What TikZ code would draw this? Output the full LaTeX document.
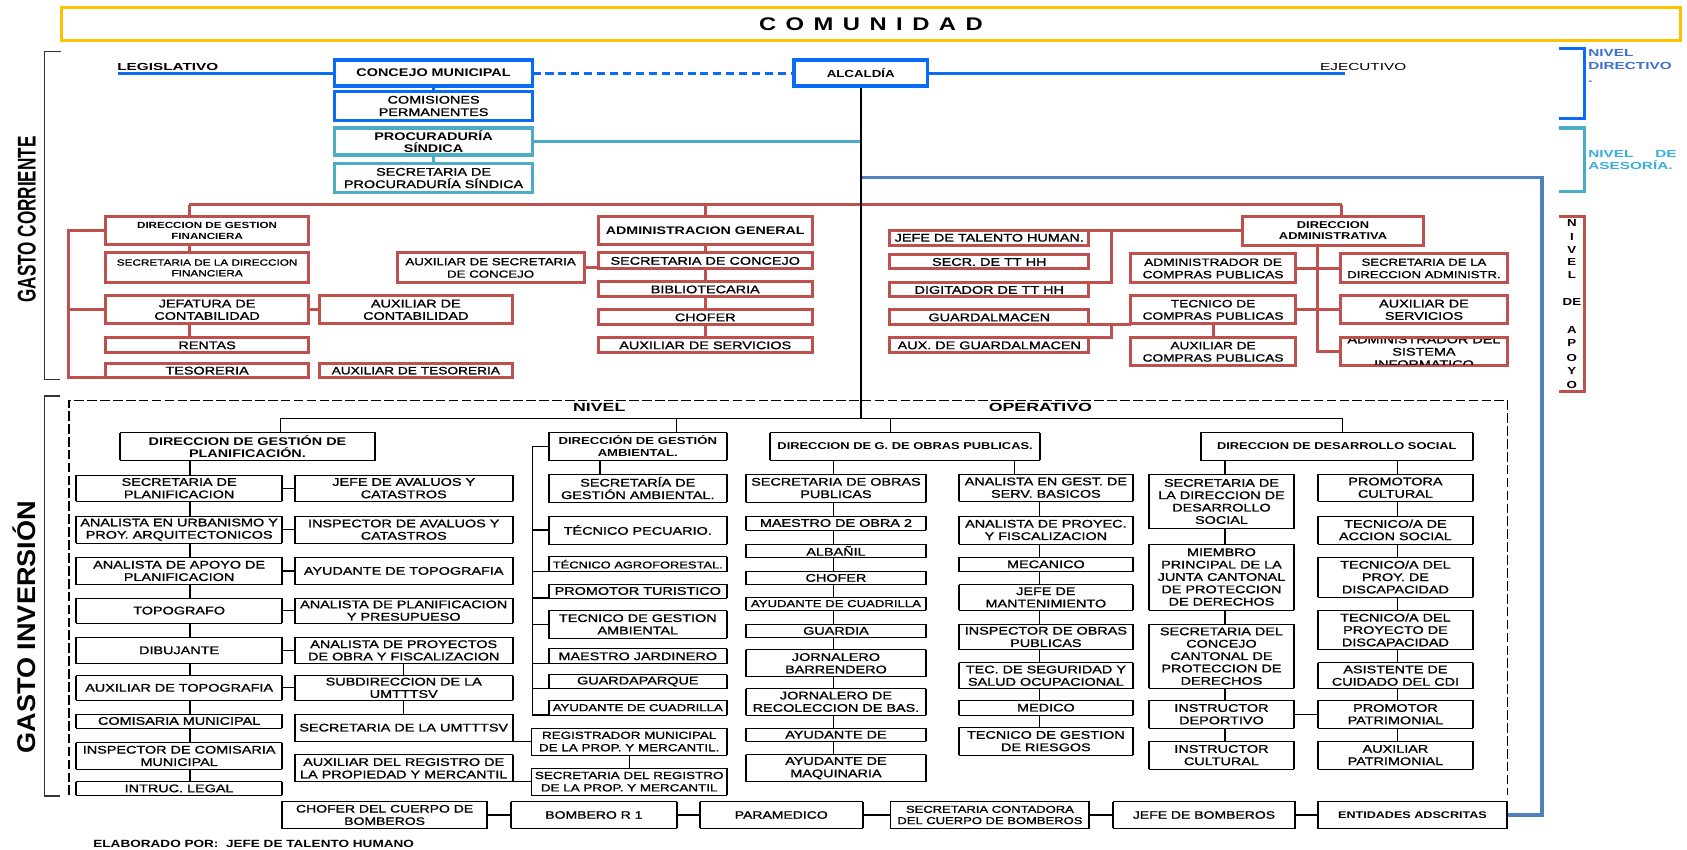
\documentclass[tikz,border=0pt]{standalone}
\usepackage{fontspec}
\setmainfont{Liberation Sans}[FakeStretch=1.3,UprightFeatures={FakeBold=1.2}]
\newfontfamily\wf{Liberation Sans}[FakeStretch=1.5]
\newfontfamily\pf{Liberation Sans}
\definecolor{corange}{HTML}{FFC000}
\definecolor{cblue}{HTML}{0A6CF5}
\definecolor{clblue}{HTML}{4BACC6}
\definecolor{csteel}{HTML}{4F81BD}
\definecolor{cred}{HTML}{C0504D}
\definecolor{ctdir}{HTML}{3F6FD0}
\definecolor{ctase}{HTML}{3AAEDD}
\definecolor{cgray}{HTML}{333333}
\pgfdeclarelayer{bg}
\pgfsetlayers{bg,main}
\newcommand\fs[1]{\fontsize{#1}{11.5}\selectfont}
\newcommand\fsk[2]{\fontsize{#1}{#2}\selectfont}
\newcommand\lsp{\hspace{8.8pt}}
\tikzset{
 box/.style={draw, fill=white, inner sep=0pt, outer sep=0pt, align=center, font=\fs{10.3}},
 bb/.style={draw=cblue, line width=3.5pt},
 lb/.style={draw=clblue, line width=3pt},
 rb/.style={draw=cred, line width=2.8pt},
 ob/.style={draw=black, line width=0.8pt},
 obside/.style={draw=black, line width=1.8pt},
 rl/.style={draw=cred, line width=2.8pt},
 cl/.style={draw=black, line width=1.2pt},
}
\newcommand\bx[7]{\node[box,#1,minimum width={#5pt-#3pt},minimum height={#6pt-#4pt}] (#2) at ({(#3+#5)/2},{(#4+#6)/2}) {#7};}
\newcommand\ob[7]{\bx{ob,#1}{#2}{#3}{#4}{#5}{#6}{#7}\draw[obside] (#2.north west) -- (#2.south west) (#2.north east) -- (#2.south east);}
\begin{document}
\begin{tikzpicture}[x=1pt,y=-1pt]
\useasboundingbox (0,0) rectangle (1568,790);

% ---------- top ----------
\bx{draw=corange,line width=3pt,font=\fs{17}\bfseries}{com}{57}{7}{1562}{38}{C\lsp O\lsp M\lsp U\lsp N\lsp I\lsp D\lsp A\lsp D}
\bx{bb,font=\fs{10.3}\bfseries}{concejo}{311}{56}{495}{80}{CONCEJO MUNICIPAL}
\bx{bb}{comis}{311}{85}{495}{112}{COMISIONES\\PERMANENTES}
\bx{lb,font=\fs{10.3}\bfseries}{procu}{311}{119}{495}{144}{PROCURADURÍA\\SÍNDICA}
\bx{lb}{secproc}{311}{152}{495}{179}{SECRETARIA DE\\PROCURADURÍA SÍNDICA}
\bx{bb,font=\fs{9.5}\bfseries}{alc}{738}{56}{862}{80}{ALCALDÍA}

\node[font=\wf\fs{9.5}\bfseries] (legis) at (156,62.5) {LEGISLATIVO};
\node[font=\wf\fs{9.5}] (ejec) at (1267,62.5) {EJECUTIVO};

% side labels
\node[anchor=base west,inner sep=0,font=\wf\fs{9.5}\bfseries,text=ctdir] (nd1) at (1476,52.7) {NIVEL};
\node[anchor=base west,inner sep=0,font=\wf\fs{9.5}\bfseries,text=ctdir] (nd2) at (1476,65) {DIRECTIVO};
\node[anchor=base west,inner sep=0,font=\wf\fs{9.5}\bfseries,text=ctdir] (nd3) at (1476,77) {.};
\node[anchor=base west,inner sep=0,font=\wf\fs{9.5}\bfseries,text=ctase] (na1) at (1476,146) {NIVEL};
\node[anchor=base east,inner sep=0,font=\wf\fs{9.5}\bfseries,text=ctase] (na2) at (1558.6,146) {DE};
\node[anchor=base west,inner sep=0,font=\wf\fs{9.5}\bfseries,text=ctase] (na3) at (1476,158) {ASESORÍA.};
\foreach \t/\yy [count=\i] in {N/207.5,I/220.5,V/232.5,E/243.5,L/255.5,DE/280.5,A/306.7,P/319,O/332.5,Y/345,O/357.8}
  \node[inner sep=0,font=\fs{9.5}\bfseries] (ap\i) at (1461,\yy) {\t};

\node[rotate=90,anchor=base,inner sep=0] (gc) at (33,204) {\scalebox{0.796}[1.19]{\pf\bfseries\fontsize{20}{20}\selectfont GASTO CORRIENTE}};
\node[rotate=90,anchor=base,inner sep=0] (gi) at (33,583) {\scalebox{1.259}[1.19]{\pf\bfseries\fontsize{20}{20}\selectfont GASTO INVERSIÓN}};

% ---------- red section ----------
\bx{rb,font=\fsk{8.3}{10}\bfseries}{dgf}{98}{201.5}{287}{227.7}{DIRECCION DE GESTION\\FINANCIERA}
\bx{rb,font=\fsk{8.4}{10}}{sdf}{98}{235}{287}{263}{SECRETARIA DE LA DIRECCION\\FINANCIERA}
\bx{rb}{jcont}{98}{275}{287}{301}{JEFATURA DE\\CONTABILIDAD}
\bx{rb}{rentas}{98}{314}{287}{328}{RENTAS}
\bx{rb}{teso}{98}{338}{287}{351}{TESORERIA}
\bx{rb}{auxcont}{297}{275}{476}{301}{AUXILIAR DE\\CONTABILIDAD}
\bx{rb,font=\fs{9.8}}{auxteso}{297}{338}{476}{351}{AUXILIAR DE TESORERIA}
\bx{rb,font=\fs{9.5}}{asc}{369}{235}{543}{263}{AUXILIAR DE SECRETARIA\\DE CONCEJO}
\bx{rb,font=\fs{10.2}\bfseries}{ag}{556}{201.5}{755}{227.7}{ADMINISTRACION GENERAL}
\bx{rb}{sc}{556}{235}{755}{250}{SECRETARIA DE CONCEJO}
\bx{rb}{bib}{556}{262}{755}{276}{BIBLIOTECARIA}
\bx{rb}{chof}{556}{288}{755}{302}{CHOFER}
\bx{rb}{auxserv}{556}{314}{755}{328}{AUXILIAR DE SERVICIOS}
\bx{rb,font=\fsk{9.2}{10.5}\bfseries}{da}{1155}{201}{1323}{228}{DIRECCION\\ADMINISTRATIVA}
\bx{rb}{jth}{827}{214}{1012}{228}{JEFE DE TALENTO HUMAN.}
\bx{rb}{stt}{827}{237}{1012}{250}{SECR. DE TT HH}
\bx{rb}{dig}{827}{263}{1012}{276}{DIGITADOR DE TT HH}
\bx{rb}{gua}{827}{288}{1012}{302}{GUARDALMACEN}
\bx{rb}{auxg}{827}{314}{1012}{328}{AUX. DE GUARDALMACEN}
\bx{rb,font=\fs{9.8}}{acp}{1051}{236}{1204}{263}{ADMINISTRADOR DE\\COMPRAS PUBLICAS}
\bx{rb,font=\fs{9.8}}{tcp}{1051}{275}{1204}{301}{TECNICO DE\\COMPRAS PUBLICAS}
\bx{rb,font=\fs{9.8}}{aucp}{1051}{314}{1204}{340}{AUXILIAR DE\\COMPRAS PUBLICAS}
\bx{rb,font=\fs{9.4}}{sda}{1246}{236}{1401}{263}{SECRETARIA DE LA\\DIRECCION ADMINISTR.}
\bx{rb}{auxs}{1246}{275}{1401}{301}{AUXILIAR DE\\SERVICIOS}
\bx{rb}{asi}{1246}{314}{1401}{340}{}
\begin{scope}
\clip ([xshift=1.5pt,yshift=-1.5pt]asi.north west) rectangle ([xshift=-1.5pt,yshift=1.5pt]asi.south east);
\node[font=\fs{10.3},align=center,inner sep=0] (asit) at (asi.center) {ADMINISTRADOR DEL\\SISTEMA\\INFORMATICO};
\end{scope}

% ---------- operative ----------
\node[font=\wf\fs{11}\bfseries] (niv) at (557,378.7) {NIVEL};
\node[font=\wf\fs{11}\bfseries] (oper) at (967,378.5) {OPERATIVO};

\ob{font=\fs{10.3}\bfseries}{dgp}{111.5}{402}{348.5}{428}{DIRECCION DE GESTIÓN DE\\PLANIFICACIÓN.}
\ob{}{c1a}{71}{441.5}{262}{466}{SECRETARIA DE\\PLANIFICACION}
\ob{}{c1b}{71}{479.6}{262}{505}{ANALISTA EN URBANISMO Y\\PROY. ARQUITECTONICOS}
\ob{}{c1c}{71}{517.7}{262}{543.6}{ANALISTA DE APOYO DE\\PLANIFICACION}
\ob{}{c1d}{71}{556}{262}{579}{TOPOGRAFO}
\ob{}{c1e}{71}{592}{262}{617}{DIBUJANTE}
\ob{}{c1f}{71}{628}{262}{650.6}{AUXILIAR DE TOPOGRAFIA}
\ob{}{c1g}{71}{663.6}{262}{676.6}{COMISARIA MUNICIPAL}
\ob{}{c1h}{71}{690.5}{262}{714.7}{INSPECTOR DE COMISARIA\\MUNICIPAL}
\ob{}{c1i}{71}{726.5}{262}{739}{INTRUC. LEGAL}
\ob{}{c2a}{274}{441.5}{476.5}{466}{JEFE DE AVALUOS Y\\CATASTROS}
\ob{}{c2b}{274}{479.6}{476.5}{505}{INSPECTOR DE AVALUOS Y\\CATASTROS}
\ob{}{c2c}{274}{517.7}{476.5}{543.6}{AYUDANTE DE TOPOGRAFIA}
\ob{}{c2d}{274}{556}{476.5}{579}{ANALISTA DE PLANIFICACION\\Y PRESUPUESO}
\ob{}{c2e}{274}{592}{476.5}{617}{ANALISTA DE PROYECTOS\\DE OBRA Y FISCALIZACION}
\ob{}{c2f}{274}{628}{476.5}{650.6}{SUBDIRECCION DE LA\\UMTTTSV}
\ob{}{c2g}{274}{663.6}{476.5}{689}{SECRETARIA DE LA UMTTTSV}
\ob{}{c2h}{274}{701.6}{476.5}{726.5}{AUXILIAR DEL REGISTRO DE\\LA PROPIEDAD Y MERCANTIL}

\ob{font=\fs{9.4}\bfseries}{dga}{510}{402}{675.6}{427.6}{DIRECCIÓN DE GESTIÓN\\AMBIENTAL.}
\ob{}{a1}{510}{440.6}{675.6}{466.6}{SECRETARÍA DE\\GESTIÓN AMBIENTAL.}
\ob{}{a2}{510}{479.6}{675.6}{505.6}{TÉCNICO PECUARIO.}
\ob{font=\fs{9.2}}{a3}{510}{517.4}{675.6}{531.3}{TÉCNICO AGROFORESTAL.}
\ob{}{a4}{510}{542.8}{675.6}{555.8}{PROMOTOR TURISTICO}
\ob{}{a5}{510}{567.5}{675.6}{593}{TECNICO DE GESTION\\AMBIENTAL}
\ob{}{a6}{510}{603}{675.6}{617}{MAESTRO JARDINERO}
\ob{}{a7}{510}{627}{675.6}{640}{GUARDAPARQUE}
\ob{font=\fs{9.4}}{a8}{510}{651}{675.6}{664.5}{AYUDANTE DE CUADRILLA}
\ob{font=\fs{9.6}}{reg}{494}{676.7}{675.6}{701.7}{REGISTRADOR MUNICIPAL\\DE LA PROP. Y MERCANTIL.}
\ob{font=\fs{9.6}}{sreg}{494}{714}{675.6}{739}{SECRETARIA DEL REGISTRO\\DE LA PROP. Y MERCANTIL}

\ob{font=\fs{9.2}\bfseries}{dgop}{716}{402}{966.5}{427.6}{DIRECCION DE G. DE OBRAS PUBLICAS.}
\ob{}{o1}{693.4}{440.6}{860.6}{466.6}{SECRETARIA DE OBRAS\\PUBLICAS}
\ob{}{o2}{693.4}{479.6}{860.6}{492.6}{MAESTRO DE OBRA 2}
\ob{}{o3}{693.4}{505.6}{860.6}{518.3}{ALBAÑIL}
\ob{}{o4}{693.4}{530.7}{860.6}{543.6}{CHOFER}
\ob{font=\fs{9.4}}{o5}{693.4}{555}{860.6}{567}{AYUDANTE DE CUADRILLA}
\ob{}{o6}{693.4}{580}{860.6}{592.6}{GUARDIA}
\ob{}{o7}{693.4}{604}{860.6}{629}{JORNALERO\\BARRENDERO}
\ob{}{o8}{693.4}{640}{860.6}{664.5}{JORNALERO DE\\RECOLECCION DE BAS.}
\ob{}{o9}{693.4}{676.7}{860.6}{689}{AYUDANTE DE}
\ob{}{o10}{693.4}{701.6}{860.6}{726.5}{AYUDANTE DE\\MAQUINARIA}
\ob{}{p1}{891.5}{440.6}{1052.7}{466}{ANALISTA EN GEST. DE\\SERV. BASICOS}
\ob{}{p2}{891.5}{479.6}{1052.7}{505.6}{ANALISTA DE PROYEC.\\Y FISCALIZACION}
\ob{}{p3}{891.5}{517.7}{1052.7}{531.3}{MECANICO}
\ob{}{p4}{891.5}{543.6}{1052.7}{567}{JEFE DE\\MANTENIMIENTO}
\ob{}{p5}{891.5}{580}{1052.7}{604}{INSPECTOR DE OBRAS\\PUBLICAS}
\ob{}{p6}{891.5}{616}{1052.7}{640}{TEC. DE SEGURIDAD Y\\SALUD OCUPACIONAL}
\ob{}{p7}{891.5}{651}{1052.7}{664.5}{MEDICO}
\ob{}{p8}{891.5}{676}{1052.7}{701.7}{TECNICO DE GESTION\\DE RIESGOS}

\ob{font=\fs{9.2}\bfseries}{dds}{1116}{402}{1369}{427.6}{DIRECCION DE DESARROLLO SOCIAL}
\ob{}{s1}{1068}{440.6}{1202.6}{491.6}{SECRETARIA DE\\LA DIRECCION DE\\DESARROLLO\\SOCIAL}
\ob{}{s2}{1068}{505.6}{1202.6}{567}{MIEMBRO\\PRINCIPAL DE LA\\JUNTA CANTONAL\\DE PROTECCION\\DE DERECHOS}
\ob{}{s3}{1068}{580}{1202.6}{639.7}{SECRETARIA DEL\\CONCEJO\\CANTONAL DE\\PROTECCION DE\\DERECHOS}
\ob{}{s4}{1068}{651}{1202.6}{676.6}{INSTRUCTOR\\DEPORTIVO}
\ob{}{s5}{1068}{689}{1202.6}{714.7}{INSTRUCTOR\\CULTURAL}
\ob{}{t1}{1225}{440.6}{1369}{466}{PROMOTORA\\CULTURAL}
\ob{}{t2}{1225}{479.6}{1369}{505.6}{TECNICO/A DE\\ACCION SOCIAL}
\ob{}{t3}{1225}{517.7}{1369}{555}{TECNICO/A DEL\\PROY. DE\\DISCAPACIDAD}
\ob{}{t4}{1225}{567}{1369}{604}{TECNICO/A DEL\\PROYECTO DE\\DISCAPACIDAD}
\ob{}{t5}{1225}{616}{1369}{640}{ASISTENTE DE\\CUIDADO DEL CDI}
\ob{}{t6}{1225}{651}{1369}{676.6}{PROMOTOR\\PATRIMONIAL}
\ob{}{t7}{1225}{689}{1369}{714.7}{AUXILIAR\\PATRIMONIAL}

\ob{font=\fs{10}}{cb}{262}{745}{453}{770}{CHOFER DEL CUERPO DE\\BOMBEROS}
\ob{font=\fs{10}}{br}{475}{745}{629}{770}{BOMBERO R 1}
\ob{font=\fs{10}}{par}{650.6}{745}{801.7}{770}{PARAMEDICO}
\ob{font=\fsk{9.3}{10.5}}{scb}{827.7}{745}{1012.5}{770}{SECRETARIA CONTADORA\\DEL CUERPO DE BOMBEROS}
\ob{font=\fs{10}}{jb}{1034.5}{745}{1203.6}{770}{JEFE DE BOMBEROS}
\ob{font=\fs{9}\bfseries}{ent}{1224.7}{745}{1401}{770}{ENTIDADES ADSCRITAS}

\node[anchor=west,inner sep=0,font=\fs{9.7}\bfseries] (elab) at (86.6,784.5) {ELABORADO POR:\ \ JEFE DE TALENTO HUMANO};

% ---------- connectors (behind boxes) ----------
\begin{pgfonlayer}{bg}
\fill[white] (0,0) rectangle (1568,790);
% brackets
\draw[cgray,line width=1.3pt] (57,48) -- (41.5,48) -- (41.5,353) -- (56,353);
\draw[cgray,line width=1.3pt] (56,368) -- (41.5,368) -- (41.5,740) -- (56,740);
\draw[cblue,line width=3pt] (1449,45) -- (1473,45) -- (1473,110) -- (1449,110);
\draw[clblue,line width=3pt] (1449,119) -- (1473,119) -- (1473,178) -- (1449,178);
\draw[cred,line width=3pt] (1449,201) -- (1473,201) -- (1473,364) -- (1449,364);
% blue
\coordinate (legL) at (110,68);
\coordinate (ejeR) at (1250,68);
\draw[cblue,line width=2.5pt] (legL) -- (concejo.west);
\draw[cblue,line width=2.5pt,dash pattern=on 7.5pt off 4.5pt] (concejo.east) -- (alc.west);
\draw[cblue,line width=2.5pt] (alc.east) -- (ejeR);
\draw[cblue,line width=3pt] (concejo.south) -- (comis.north);
\draw[clblue,line width=3pt] (procu.south) -- (secproc.north);
\draw[clblue,line width=2.2pt] (procu.east) -- (procu.east -| alc.south);
\coordinate (stR) at (1433,165);
\draw[csteel,line width=3.5pt] (stR -| alc.south) -- (stR) -- (stR |- ent.east) -- (ent.east);
% red
\coordinate (rbusL) at (176,190.5);
\coordinate (rbusR) at (1247,190.5);
\coordinate (xfl) at (64,0);
\coordinate (xtt) at (1033,0);
\coordinate (xdav) at (1225,0);
\draw[rl] (rbusL) -- (rbusR);
\draw[rl] (rbusL) -- (rbusL |- dgf.north);
\draw[rl] (ag.north |- rbusL) -- (ag.north);
\draw[rl] (rbusR) -- (rbusR |- da.north);
\draw[rl] (rbusL |- dgf.south) -- (rbusL |- sdf.north);
\draw[rl] (rbusL |- jcont.south) -- (rbusL |- rentas.north);
\draw[rl] (dgf.west) -- (dgf.west -| xfl) -- (xfl |- teso.south) -- (teso.south west);
\draw[rl] (xfl |- jcont.west) -- (jcont.west);
\draw[rl] (jcont.east) -- (auxcont.west);
\draw[rl] (asc.east) -- (asc.east -| sc.west);
\draw[rl] (ag.south) -- (auxserv.north);
\draw[rl] (da.west) -- (da.west -| jth.east);
\draw[rl] (xtt |- da.west) -- (xtt |- dig.north) -- (dig.north east);
\draw[rl] (gua.south east) -- (gua.south east -| tcp.west);
\draw[rl] (xtt |- gua.south) -- (xtt |- auxg.north) -- (auxg.north east);
\draw[rl] (tcp.south) -- (aucp.north);
\draw[rl] (xdav |- da.south) -- (xdav |- asi.west) -- (asi.west);
\draw[rl] (acp.east) -- (sda.west);
\draw[rl] (tcp.east) -- (auxs.west);
% alcaldia trunk
\coordinate (opL) at (261,388.8);
\coordinate (opR) at (1248,388.8);
\draw[black,line width=1.5pt] (alc.south) -- (alc.south |- opL);
% dashed frame
\draw[black,line width=1.2pt,dash pattern=on 9pt off 3pt] (64,739) -- (64,372) -- (1401,372) -- (1401,739);
% operative bus
\coordinate (xdga) at (629,0);
\coordinate (xdgop) at (828,0);
\draw[cl] (opL) -- (opR);
\draw[cl] (opL) -- (opL |- dgp.north);
\draw[cl] (xdga |- opL) -- (xdga |- dga.north);
\draw[cl] (xdgop |- opL) -- (xdgop |- dgop.north);
\draw[cl] (opR) -- (opR |- dds.north);
% planificacion
\coordinate (xc1) at (176.6,0);
\draw[cl] (xc1 |- dgp.south) -- (xc1 |- c1i.north);
\foreach \a/\b in {c1a/c2a,c1b/c2b,c1c/c2c,c1d/c2d,c1e/c2e,c1f/c2f}
  \draw[cl] (\a.east) -- (\b.west);
\draw[cl] (c2e.south) -- (c2g.north);
\draw[cl] (reg.west) -- (reg.west -| c2g.east);
\draw[cl] (sreg.west) -- (sreg.west -| c2h.east);
% ambiental
\coordinate (xa) at (495,0);
\coordinate (xa1) at (557.6,0);
\draw[cl] (dga.west) -- (dga.west -| xa) -- (xa |- a8.south) -- (a8.south west);
\draw[cl] (xa |- a2.west) -- (a2.west);
\draw[cl] (xa |- a3.south) -- (a3.south west);
\draw[cl] (xa |- a4.south) -- (a4.south west);
\draw[cl] (xa |- a5.west) -- (a5.west);
\draw[cl] (xa |- a6.south) -- (a6.south west);
\draw[cl] (xa |- a7.south) -- (a7.south west);
\draw[cl] (xa1 |- dga.south) -- (xa1 |- a1.north);
\draw[cl] (reg.south) -- (sreg.north);
% obras
\coordinate (xo1) at (774.5,0);
\coordinate (xo2) at (942.7,0);
\coordinate (xo3) at (966,0);
\draw[cl] (xo1 |- dgop.south) -- (xo1 |- o10.north);
\draw[cl] (xo2 |- dgop.south) -- (xo2 |- p1.north);
\draw[cl] (xo3 |- p1.south) -- (xo3 |- p8.north);
% desarrollo social
\coordinate (xs1) at (1138.6,0);
\coordinate (xs2) at (1299,0);
\draw[cl] (xs1 |- dds.south) -- (xs1 |- s5.north);
\draw[cl] (xs2 |- dds.south) -- (xs2 |- t7.north);
\draw[cl] (s4.east) -- (t6.west);
% bomberos row
\draw[cl] (cb.east) -- (br.west);
\draw[cl] (br.east) -- (par.west);
\draw[cl] (par.east) -- (scb.west);
\draw[cl] (scb.east) -- (jb.west);
\draw[cl] (jb.east) -- (ent.west);
\end{pgfonlayer}
\end{tikzpicture}
\end{document}
